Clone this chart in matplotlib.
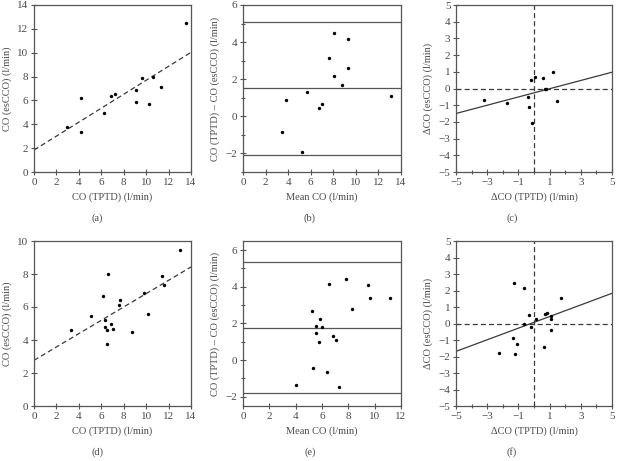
import numpy as np
import matplotlib
matplotlib.use('Agg')
import matplotlib.pyplot as plt
from matplotlib.ticker import MultipleLocator

plt.rcParams['font.family'] = ['Liberation Serif', 'DejaVu Serif']
plt.rcParams['font.size'] = 7.5

# (a) CO esCCO vs CO TPTD, first set
a_x = [2.95, 4.23, 4.23, 6.26, 6.85, 7.21, 9.06, 9.06, 9.59, 10.57, 10.22, 11.35, 13.55]
a_y = [3.80, 3.38, 6.18, 4.97, 6.37, 6.54, 6.87, 5.90, 7.91, 7.96, 5.70, 7.13, 12.49]
a_fit = [1.84, 0.585]  # intercept, slope

# (b) Bland-Altman, first set
b_mean = [3.46, 3.85, 5.68, 5.27, 6.69, 6.96, 7.58, 8.02, 8.02, 8.79, 9.26, 9.32, 13.11]
b_diff = [-0.83, 0.86, 1.29, -1.90, 0.43, 0.65, 3.16, 4.47, 2.17, 1.71, 4.17, 2.59, 1.08]
b_lines = [5.10, 1.51, -2.07]

# (c) changes, first set
c_x = [-3.22, -1.74, -0.37, -0.29, -0.19, -0.10, 0.08, 0.56, 0.71, 0.80, 1.24, 1.45]
c_y = [-0.67, -0.89, -0.49, -1.09, 0.49, -2.09, 0.71, 0.63, -0.01, -0.02, 0.97, -0.73]
c_fit = [-0.26, 0.247]

# (d) CO esCCO vs CO TPTD, second set
d_x = [3.28, 5.12, 6.11, 6.31, 6.34, 6.55, 6.55, 6.64, 6.91, 7.06, 7.57, 7.63, 8.76,
       9.77, 10.13, 11.41, 11.62, 13.02]
d_y = [4.59, 5.45, 6.65, 5.19, 4.79, 4.63, 3.78, 8.02, 4.99, 4.69, 6.14, 6.42, 4.46,
       6.87, 5.58, 7.86, 7.35, 9.45]
d_fit = [2.77, 0.404]

# (e) Bland-Altman, second set
e_mean = [3.99, 5.24, 5.34, 5.54, 5.57, 5.77, 5.87, 5.97, 6.38, 6.56, 6.84, 7.04, 7.32,
          7.81, 8.31, 9.48, 9.64, 11.19]
e_diff = [-1.34, 2.70, -0.42, 1.85, 1.47, 1.01, 2.24, 1.83, -0.62, 4.14, 1.34, 1.09, -1.47,
          4.43, 2.81, 4.11, 3.40, 3.37]
e_lines = [5.34, 1.76, -1.81]

# (f) changes, second set
f_x = [-2.22, -1.33, -1.27, -1.22, -1.12, -0.66, -0.64, -0.29, -0.19, 0.15, 0.66, 0.71,
       0.83, 1.08, 1.10, 1.12, 1.72]
f_y = [-1.81, -0.86, 2.43, -1.85, -1.27, 2.15, -0.06, 0.52, -0.20, 0.28, -1.45, 0.56,
       0.62, 0.48, 0.26, -0.38, 1.55]
f_fit = [0.07, 0.352]

txt = '#4a4a4a'
W, H = 617, 461
fig = plt.figure(figsize=(W / 100, H / 100), dpi=100)


def make_ax(l, r, t, b):
    ax = fig.add_axes([l / W, 1 - b / H, (r - l) / W, (b - t) / H])
    for s in ax.spines.values():
        s.set_color('#555555')
        s.set_linewidth(0.9)
    ax.tick_params(direction='inout', length=4, width=0.8, color='#555555',
                   labelcolor=txt, labelsize=8, pad=2)
    ax.tick_params(which='minor', direction='inout', length=3, width=0.8, color='#555555')
    return ax


def dots(ax, x, y):
    ax.scatter(x, y, s=6, color='black', zorder=3, linewidths=0)


def scatter_panel(ax, x, y, fit, ylim, ystep):
    dots(ax, x, y)
    xx = np.array([0, 14])
    ax.plot(xx, fit[0] + fit[1] * xx, ls=(0, (4, 2.5)), color='#3a3a3a', lw=0.9)
    ax.set_xlim(0, 14)
    ax.set_ylim(*ylim)
    ax.xaxis.set_major_locator(MultipleLocator(2))
    ax.yaxis.set_major_locator(MultipleLocator(ystep))
    ax.set_xlabel('CO (TPTD) (l/min)', color=txt)
    ax.set_ylabel('CO (esCCO) (l/min)', color=txt)


def ba_panel(ax, m, d, lines, xlim, ylim):
    dots(ax, m, d)
    for v in lines:
        ax.axhline(v, color='#555555', lw=0.9)
    ax.set_xlim(*xlim)
    ax.set_ylim(*ylim)
    ax.xaxis.set_major_locator(MultipleLocator(2))
    ax.yaxis.set_major_locator(MultipleLocator(2))
    ax.yaxis.set_minor_locator(MultipleLocator(1))
    ax.set_xlabel('Mean CO (l/min)', color=txt)
    ax.set_ylabel('CO (TPTD) \u2013 CO (esCCO) (l/min)', color=txt)


def change_panel(ax, x, y, fit):
    dots(ax, x, y)
    xx = np.array([-5, 5])
    ax.plot(xx, fit[0] + fit[1] * xx, color='#3a3a3a', lw=0.9)
    ax.axhline(0, color='#3a3a3a', lw=0.9, ls=(0, (4, 2.5)))
    ax.axvline(0, color='#3a3a3a', lw=0.9, ls=(0, (4, 2.5)))
    ax.set_xlim(-5, 5)
    ax.set_ylim(-5, 5)
    ax.set_xticks([-5, -3, -1, 1, 3, 5])
    ax.xaxis.set_minor_locator(MultipleLocator(1))
    ax.yaxis.set_major_locator(MultipleLocator(1))
    ax.set_xlabel('\u0394CO (TPTD) (l/min)', color=txt)
    ax.set_ylabel('\u0394CO (esCCO) (l/min)', color=txt)


ax = make_ax(34, 191, 5, 172)
scatter_panel(ax, a_x, a_y, a_fit, (0, 14), 2)
ax = make_ax(243, 401, 5, 172)
ba_panel(ax, b_mean, b_diff, b_lines, (0, 14), (-3, 6))
ax = make_ax(456, 612, 5, 172)
change_panel(ax, c_x, c_y, c_fit)

ax = make_ax(34, 191, 241, 406)
scatter_panel(ax, d_x, d_y, d_fit, (0, 10), 2)
ax = make_ax(243, 401, 241, 406)
ba_panel(ax, e_mean, e_diff, e_lines, (0, 12), (-2.5, 6.5))
ax = make_ax(456, 612, 241, 406)
change_panel(ax, f_x, f_y, f_fit)

for lab, x, y in [('(a)', 97, 218), ('(b)', 310, 218), ('(c)', 512, 218),
                  ('(d)', 97, 452), ('(e)', 310, 452), ('(f)', 512, 452)]:
    fig.text(x / W, 1 - y / H, lab, ha='center', va='center', color=txt, fontsize=7.5)

fig.savefig('out.png', dpi=100)
